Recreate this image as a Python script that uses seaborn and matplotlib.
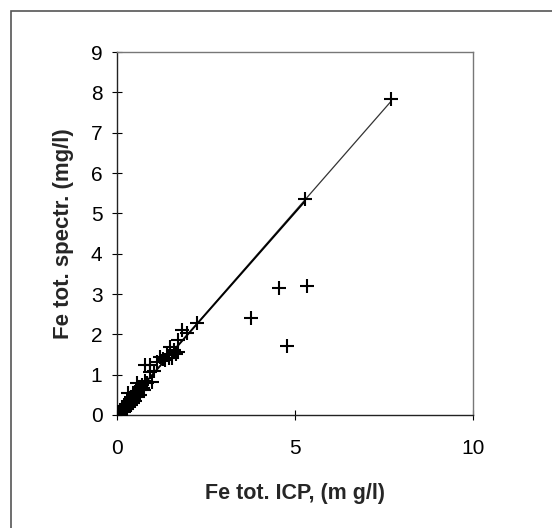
import numpy as np
import pandas as pd
import matplotlib
matplotlib.use("Agg")
import matplotlib.pyplot as plt
import seaborn as sns
from matplotlib.patches import Rectangle

# Fe tot. ICP vs Fe tot. spectr. (mg/l)
icp = [0.02, 0.04, 0.05, 0.07, 0.08, 0.10, 0.12, 0.14, 0.15, 0.18, 0.20, 0.22,
       0.25, 0.27, 0.30, 0.31, 0.34, 0.36, 0.38, 0.40, 0.42, 0.45, 0.48, 0.50,
       0.52, 0.55, 0.56, 0.60, 0.62, 0.65, 0.70, 0.72, 0.78, 0.79, 0.85, 0.93,
       0.93, 0.98, 1.12, 1.21, 1.30, 1.40, 1.45, 1.49, 1.54, 1.60, 1.72, 1.72,
       1.83, 1.97, 2.25, 3.76, 4.55, 4.78, 5.28, 5.34, 7.70,
       0.35, 0.45, 0.28, 0.60, 0.20, 0.03, 0.06, 0.10, 0.16, 0.24, 0.40,
       0.50, 0.66, 0.75, 1.05, 1.35, 1.65]
spectr = [0.03, 0.05, 0.04, 0.08, 0.10, 0.09, 0.13, 0.20, 0.12, 0.17, 0.22, 0.18,
          0.28, 0.24, 0.33, 0.55, 0.30, 0.40, 0.34, 0.45, 0.38, 0.50, 0.42, 0.56,
          0.48, 0.60, 0.79, 0.55, 0.70, 0.62, 0.75, 0.66, 0.85, 1.24, 0.80, 1.24,
          1.07, 0.82, 1.32, 1.44, 1.38, 1.49, 1.42, 1.69, 1.41, 1.62, 1.86, 1.56,
          2.11, 2.03, 2.28, 2.41, 3.15, 1.71, 5.36, 3.20, 7.84,
          0.22, 0.30, 0.15, 0.45, 0.08, 0.01, 0.02, 0.05, 0.10, 0.14, 0.26,
          0.35, 0.50, 0.62, 1.10, 1.36, 1.52]

# trend lines
fit_x = [0.0, 7.70]
fit_y = [0.0, 7.78]
fit2_x = [0.0, 5.28]
fit2_y = [0.0, 5.30]

df = pd.DataFrame({"icp": icp, "spectr": spectr})

sns.set_style("white")
plt.rcParams['font.family'] = ['Liberation Sans', 'DejaVu Sans']

fig = plt.figure(figsize=(5.52, 5.28), dpi=100)
ax = fig.add_axes([117 / 552, 1 - 415 / 528, (473 - 117) / 552, (415 - 52) / 528])

sns.lineplot(x=fit_x, y=fit_y, ax=ax, color="#333333", linewidth=0.9)
sns.lineplot(x=fit2_x, y=fit2_y, ax=ax, color="black", linewidth=1.3)
sns.scatterplot(data=df, x="icp", y="spectr", ax=ax, marker="+", s=110,
                color="black", linewidth=1.5, zorder=3)

ax.set_xlim(0, 10)
ax.set_ylim(0, 9)
ax.set_xticks([0, 5, 10])
ax.set_yticks(range(0, 10))
ax.tick_params(bottom=True, left=True, direction="inout", length=7, width=0.8,
               labelsize=15, colors="black")
ax.tick_params(axis="x", pad=14)
ax.tick_params(axis="y", pad=7)

for side in ["left", "bottom"]:
    ax.spines[side].set_color("#222222")
    ax.spines[side].set_linewidth(1.0)
for side in ["top", "right"]:
    ax.spines[side].set_color("#777777")
    ax.spines[side].set_linewidth(1.0)

ax.set_xlabel("Fe tot. ICP, (m g/l)", fontsize=15.5, fontweight="bold", labelpad=18)
ax.set_ylabel("Fe tot. spectr. (mg/l)", fontsize=16, fontweight="bold", labelpad=12)

# outer border of the figure
fig.patches.append(Rectangle((11 / 552, -0.1), 1.2, 1 - 11 / 528 + 0.1,
                             transform=fig.transFigure, fill=False,
                             edgecolor="#555555", linewidth=1.2))

fig.savefig("out.png", dpi=100)
